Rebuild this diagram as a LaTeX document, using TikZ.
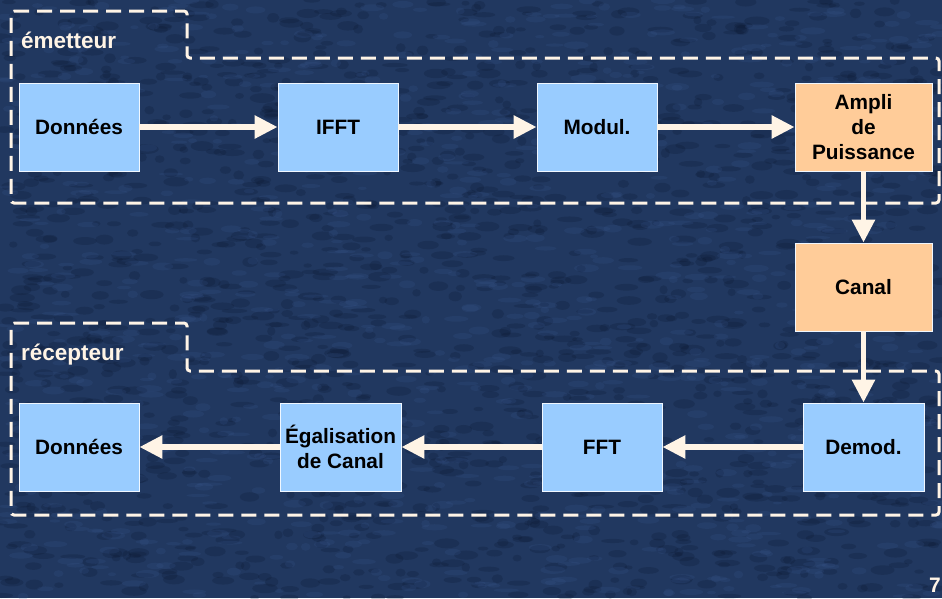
\documentclass[tikz,border=0pt]{standalone}
\usepackage{fontspec}
\setmainfont{Liberation Sans}
\usetikzlibrary{arrows.meta}
\definecolor{bg}{RGB}{33,56,96}
\definecolor{bgdark}{RGB}{10,22,46}
\definecolor{bglight}{RGB}{60,90,146}
\definecolor{cream}{RGB}{255,244,230}
\definecolor{lblue}{RGB}{153,204,255}
\definecolor{lorange}{RGB}{255,204,153}
\tikzset{
  blk/.style={rectangle, draw=white!85!lblue, line width=0.8pt, inner sep=0pt,
    minimum width=120pt, minimum height=88pt, align=center,
    font=\fontsize{20.8}{25}\selectfont\bfseries, text=black},
  bluebox/.style={blk, fill=lblue},
  orangebox/.style={blk, fill=lorange, minimum width=137pt},
  flow/.style={draw=cream, line width=5.6pt, -{Triangle[length=23pt,width=22pt]}},
  zone/.style={draw=cream, line width=3pt, dash pattern=on 15pt off 8pt, rounded corners=3pt},
  zonelabel/.style={anchor=base west, inner sep=0pt, text=cream, font=\fontsize{22.5}{27}\selectfont\bfseries},
}
\begin{document}
\begin{tikzpicture}[x=1pt, y=-1pt]
\useasboundingbox (0,0) rectangle (942,598);
% background
\fill[bg] (0,0) rectangle (942,598);
\pgfmathsetseed{11}
\foreach \i in {1,...,1600} {
  \pgfmathsetmacro{\px}{942*rnd}
  \pgfmathsetmacro{\py}{598*rnd}
  \pgfmathsetmacro{\rx}{4+9*rnd}
  \pgfmathsetmacro{\ry}{2+3*rnd}
  \fill[bgdark, opacity=0.22] (\px,\py) ellipse [x radius=\rx, y radius=\ry];
}
\foreach \i in {1,...,1000} {
  \pgfmathsetmacro{\px}{942*rnd}
  \pgfmathsetmacro{\py}{598*rnd}
  \pgfmathsetmacro{\rx}{4+9*rnd}
  \pgfmathsetmacro{\ry}{1.5+2.5*rnd}
  \fill[bglight, opacity=0.18] (\px,\py) ellipse [x radius=\rx, y radius=\ry];
}
% zones
\draw[zone] (11,11) -- (187,11) -- (187,58) -- (939,58) -- (939,203) -- (11,203) -- cycle;
\draw[zone] (11,323) -- (187,323) -- (187,371) -- (939,371) -- (939,515) -- (11,515) -- cycle;
\node[zonelabel] (lblE) at (21,48) {émetteur};
\node[zonelabel] (lblR) at (21,360) {récepteur};
% emitter blocks
\node[bluebox] (don1) at (79,127) {Données};
\node[bluebox] (ifft) at (338,127) {IFFT};
\node[bluebox] (mod) at (597,127) {Modul.};
\node[orangebox] (amp) at (863.5,127) {Ampli\\de\\Puissance};
\node[orangebox] (can) at (863.5,287) {Canal};
% receiver blocks
\node[bluebox, minimum width=121pt] (dem) at (863.5,447) {Demod.};
\node[bluebox] (fft) at (602,447) {FFT};
\node[bluebox, minimum width=121pt] (egal) at (340.5,447) {Égalisation\\de Canal};
\node[bluebox] (don2) at (79,447) {Données};
% connectors
\draw[flow] (don1) -- (ifft);
\draw[flow] (ifft) -- (mod);
\draw[flow] (mod) -- (amp);
\draw[flow] (amp) -- (can);
\draw[flow] (can) -- (dem);
\draw[flow] (dem) -- (fft);
\draw[flow] (fft) -- (egal);
\draw[flow] (egal) -- (don2);
% page number
\node[anchor=base east, inner sep=0pt, text=cream, font=\fontsize{21}{25}\selectfont\bfseries] (pg) at (941,592) {7};
\end{tikzpicture}
\end{document}
